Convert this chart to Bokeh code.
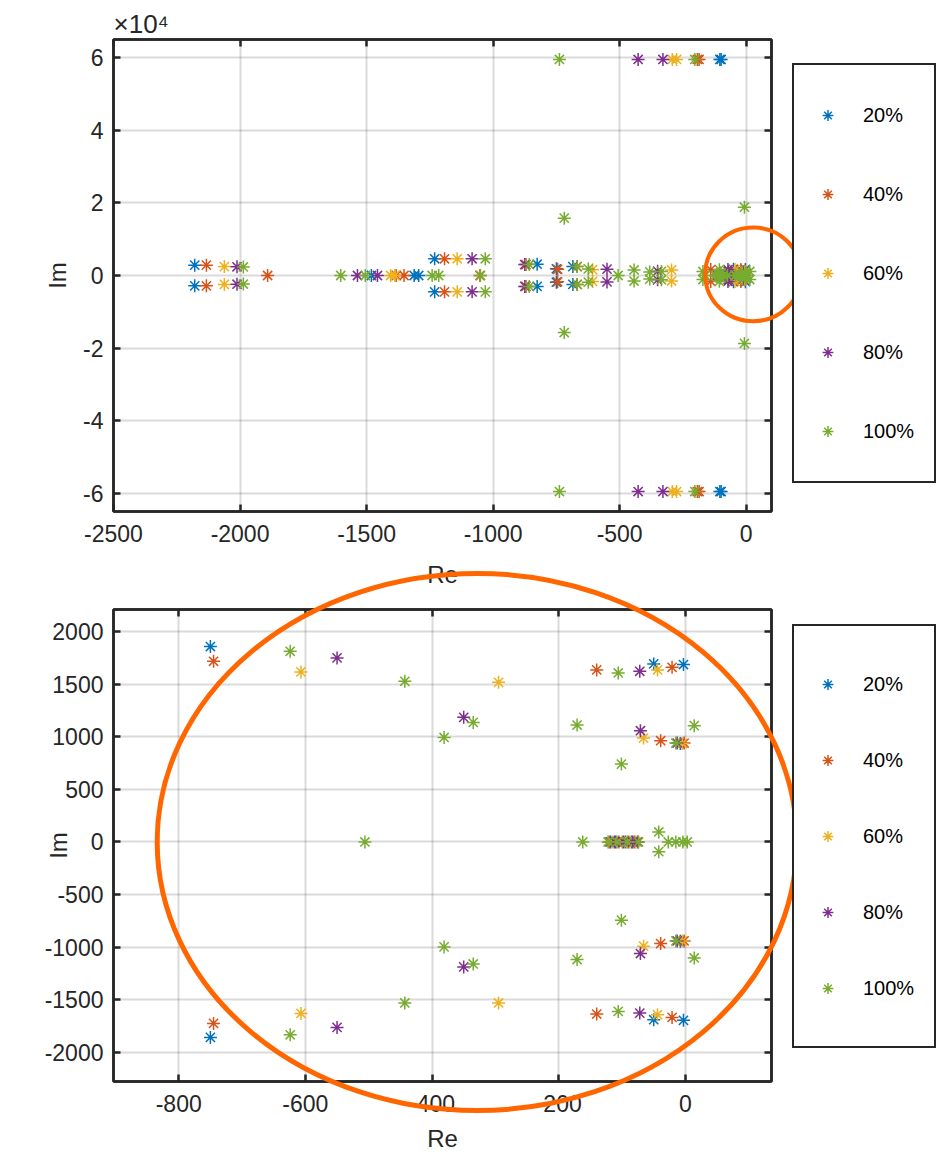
from bokeh.plotting import figure
from bokeh.models import (Range1d, FixedTicker, LinearAxis, Legend, LegendItem, Title)
from bokeh.layouts import column
from bokeh.embed import file_html
from bokeh.resources import INLINE

# ---------------- data (poles) ----------------
series_labels = ["20%", "40%", "60%", "80%", "100%"]
series_colors = ["#0072BD", "#D95319", "#EDB120", "#7E2F8E", "#77AC30"]

re_20 = [-2179, -2179, -1481, -1312, -1294, -1231, -1231, -826, -826, -685, -685,
         -750, -750, -104, -104, -99, -99, -50, -50, -3, -3, -8, -8,
         -118, -110, -95, -85]
im_20 = [2850, -2850, 0, 0, 0, 4600, -4500, 3100, -3000, 2450, -2450,
         1857, -1857, 59500, -59500, 59500, -59500, 1692, -1689, 1686, -1695, 936, -943,
         0, 0, 0, 0]

re_40 = [-2133, -2133, -1891, -1383, -1352, -1192, -1192, -870, -870, -745, -745,
         -668, -668, -1052, -193, -193, -186, -186, -140, -140, -21, -21, -39, -39,
         -2, -2, -120, -105, -90, -80]
im_40 = [2850, -2850, 0, 0, 0, 4600, -4500, 3000, -3000, 1717, -1724,
         2450, -2450, 0, 59500, -59500, 59500, -59500, 1635, -1635, 1660, -1667, 962, -965,
         940, -940, 0, 0, 0, 0]

re_60 = [-2062, -2062, -1405, -1388, -1142, -1142, -607, -607, -295, -295,
         -292, -292, -275, -275, -44, -44, -66, -66, -5, -5,
         -115, -100, -88, -78]
im_60 = [2450, -2450, 0, 0, 4600, -4500, 1616, -1629, 1517, -1530,
         59500, -59500, 59500, -59500, 1635, -1641, 987, -990, 936, -940,
         0, 0, 0, 0]

re_80 = [-2012, -2012, -1536, -1457, -1083, -1083, -875, -875, -550, -550,
         -350, -350, -427, -427, -329, -329, -72, -72, -71, -71, -13, -13,
         -112, -98, -83, -75]
im_80 = [2400, -2400, 0, 0, 4600, -4500, 3000, -3000, 1749, -1762,
         1184, -1187, 59500, -59500, 59500, -59500, 1622, -1626, 1057, -1060, 940, -940,
         0, 0, 0, 0]

re_100 = [-1987, -1987, -1602, -1505, -1241, -1215, -1050, -1031, -1031, -857, -857,
          -668, -668, -738, -738, -203, -203, -719, -719, -7, -7,
          -624, -624, -443, -443, -381, -381, -506, -335, -335, -171, -171,
          -106, -106, 14, 14, -101, -101, -162, -42, -42, -27, -15, -4, 3,
          -15, -15, -122, -108, -92, -74]
im_100 = [2350, -2350, 0, 0, 0, 0, 0, 4600, -4500, 3000, -3000,
          2450, -2450, 59500, -59500, 59500, -59500, 15800, -15700, 18800, -18700,
          1812, -1832, 1527, -1530, 993, -997, 0, 1136, -1159, 1111, -1117,
          1606, -1610, 1105, -1102, 740, -743, 0, 95, -92, 0, 0, 0, 0,
          940, -940, 0, 0, 0, 0]

series_re = [re_20, re_40, re_60, re_80, re_100]
series_im = [im_20, im_40, im_60, im_80, im_100]

top_xticks = [-2500, -2000, -1500, -1000, -500, 0]
top_xtick_labels = ["-2500", "-2000", "-1500", "-1000", "-500", "0"]
top_yticks = [-60000, -40000, -20000, 0, 20000, 40000, 60000]
top_ytick_labels = ["-6", "-4", "-2", "0", "2", "4", "6"]
top_exponent = "\u00d710\u2074"

bot_xticks = [-800, -600, -400, -200, 0]
bot_xtick_labels = ["-800", "-600", "-400", "-200", "0"]
bot_yticks = [-2000, -1500, -1000, -500, 0, 500, 1000, 1500, 2000]
bot_ytick_labels = ["-2000", "-1500", "-1000", "-500", "0", "500", "1000", "1500", "2000"]

x_label = "Re"
y_label = "Im"

# axis limits
TOP_X = (-2500, 100)
TOP_Y = (-65000, 65000)
BOT_X = (-903, 136)
BOT_Y = (-2276, 2209)

# highlight rings (centre, semi-axes) in each panel's data units
RING_TOP = (28, 300, 190, 12900)
RING_BOT = (-329, 0, 505, 2552)

# ---------------- styling / layout ----------------
FONT = "Liberation Sans"
AX = "#262626"
RING = "#FF6600"
W, H = 937, 1159
TOP_H, BOT_H, OVERLAP = 600, 609, 50
FRAME_L, FRAME_R = 113, 771
TOP_FRAME = (39, 511)
BOT_FRAME = (609, 1081)
LEGEND_X = 792
TOP_LEGEND_BOTTOM = 483
BOT_LEGEND_BOTTOM = 1048
TICK_FS = "23px"


def style_axis(ax, ticker, labels, standoff):
    ax.ticker = ticker
    ax.major_label_overrides = {t: l for t, l in zip(ticker.ticks, labels)}
    ax.axis_line_color = AX
    ax.axis_line_width = 2.5
    ax.major_tick_in = 7
    ax.major_tick_out = 0
    ax.major_tick_line_color = AX
    ax.major_tick_line_width = 2.5
    ax.minor_tick_line_color = None
    ax.major_label_text_font = FONT
    ax.major_label_text_font_size = TICK_FS
    ax.major_label_text_color = AX
    ax.major_label_standoff = standoff
    ax.axis_label_text_font = FONT
    ax.axis_label_text_font_size = "24px"
    ax.axis_label_text_font_style = "normal"
    ax.axis_label_text_color = AX


def mirror_axis(ticks):
    return LinearAxis(ticker=FixedTicker(ticks=ticks, minor_ticks=[]),
                      major_tick_in=7, major_tick_out=0,
                      major_tick_line_color=AX, major_tick_line_width=2.5,
                      minor_tick_line_color=None, axis_line_color=AX, axis_line_width=2.5,
                      major_label_text_color=None, major_label_text_font_size="1px",
                      major_label_standoff=0)


def make_plot(xr, yr, height, border_top, border_bottom, xt, xl, yt, yl, im_standoff,
              re_standoff):
    p = figure(width=W, height=height, x_range=Range1d(*xr), y_range=Range1d(*yr),
               output_backend="svg", toolbar_location=None,
               min_border_left=FRAME_L, min_border_right=W - FRAME_R,
               min_border_top=border_top, min_border_bottom=border_bottom)
    p.background_fill_color = "white"
    p.outline_line_color = AX
    p.outline_line_width = 2.5
    p.outline_line_alpha = 1.0

    xticker = FixedTicker(ticks=xt, minor_ticks=[])
    yticker = FixedTicker(ticks=yt, minor_ticks=[])
    style_axis(p.xaxis[0], xticker, xl, 13)
    style_axis(p.yaxis[0], yticker, yl, 10)
    p.xaxis[0].axis_label = x_label
    p.yaxis[0].axis_label = y_label
    p.xaxis[0].axis_label_standoff = re_standoff
    p.yaxis[0].axis_label_standoff = im_standoff
    p.xgrid.ticker = xticker
    p.ygrid.ticker = yticker
    for g in (p.xgrid, p.ygrid):
        g.grid_line_color = AX
        g.grid_line_alpha = 0.17
        g.grid_line_width = 2

    p.add_layout(mirror_axis(xt), "above")
    p.add_layout(mirror_axis(yt), "right")

    for col, xs, ys in zip(series_colors, series_re, series_im):
        p.scatter(xs, ys, marker="asterisk", size=13, line_color=col, line_width=1.5)
    return p


top = make_plot(TOP_X, TOP_Y, TOP_H, TOP_FRAME[0], TOP_H - TOP_FRAME[1],
                top_xticks, top_xtick_labels, top_yticks, top_ytick_labels, 9, 16)
top.add_layout(Title(text=top_exponent, align="left", text_font=FONT,
                     text_font_size="26px", text_font_style="normal", text_color=AX,
                     standoff=1, offset=0), "above")

bot_top_px = TOP_H - OVERLAP
bottom = make_plot(BOT_X, BOT_Y, BOT_H, BOT_FRAME[0] - bot_top_px,
                   bot_top_px + BOT_H - BOT_FRAME[1],
                   bot_xticks, bot_xtick_labels, bot_yticks, bot_ytick_labels, -30, 10)
bottom.border_fill_color = None
bottom.margin = (-OVERLAP, 0, 0, 0)


# ---- transparent overlay page layer: legends and the hand-drawn highlight rings ----
def extend(lo, hi, a, b, total):
    """data range covering pixels 0..total, given lo at pixel a and hi at pixel b"""
    k = (hi - lo) / (b - a)
    return lo - a * k, lo + (total - a) * k


bx0, bx1 = extend(BOT_X[0], BOT_X[1], FRAME_L, FRAME_R, W)
by1, by0 = extend(BOT_Y[1], BOT_Y[0], BOT_FRAME[0], BOT_FRAME[1], H)
tx0, tx1 = extend(TOP_X[0], TOP_X[1], FRAME_L, FRAME_R, W)
ty1, ty0 = extend(TOP_Y[1], TOP_Y[0], TOP_FRAME[0], TOP_FRAME[1], H)

overlay = figure(width=W, height=H, x_range=Range1d(bx0, bx1), y_range=Range1d(by0, by1),
                 x_axis_type=None, y_axis_type=None, output_backend="svg",
                 toolbar_location=None, min_border=0)
overlay.extra_x_ranges = {"top": Range1d(tx0, tx1)}
overlay.extra_y_ranges = {"top": Range1d(ty0, ty1)}
overlay.outline_line_color = None
overlay.background_fill_color = None
overlay.border_fill_color = None
overlay.margin = (-H, 0, 0, 0)

# legend entries (same series, marker style only; not drawn in this layer)
legend_items = []
for lab, col, xs, ys in zip(series_labels, series_colors, series_re, series_im):
    r = overlay.scatter(xs, ys, marker="asterisk", size=13, line_color=col,
                        line_width=1.5, visible=False)
    legend_items.append(LegendItem(label=lab, renderers=[r]))


def make_legend(bottom_px, glyph_h, spacing):
    return Legend(items=legend_items, location=(LEGEND_X, H - bottom_px),
                  orientation="vertical", glyph_width=27, glyph_height=glyph_h,
                  spacing=spacing, padding=20, label_standoff=22, margin=0,
                  label_text_font=FONT, label_text_font_size="20px",
                  label_text_color="black",
                  border_line_color=AX, border_line_width=2.5, border_line_alpha=1.0,
                  background_fill_color="white", background_fill_alpha=1.0)


overlay.add_layout(make_legend(TOP_LEGEND_BOTTOM, 60, 19))
overlay.add_layout(make_legend(BOT_LEGEND_BOTTOM, 76, 0))

overlay.ellipse(x=[RING_BOT[0]], y=[RING_BOT[1]], width=[2 * RING_BOT[2]],
                height=[2 * RING_BOT[3]], fill_color=None, line_color=RING, line_width=5,
                level="overlay")
overlay.ellipse(x=[RING_TOP[0]], y=[RING_TOP[1]], width=[2 * RING_TOP[2]],
                height=[2 * RING_TOP[3]], fill_color=None, line_color=RING, line_width=4,
                x_range_name="top", y_range_name="top", level="overlay")

# nesting keeps the overlay's frame independent of the two charts' frame alignment
layout = column(column(top, bottom, spacing=0), overlay, spacing=0)
open("out.html", "w").write(file_html(layout, INLINE))
